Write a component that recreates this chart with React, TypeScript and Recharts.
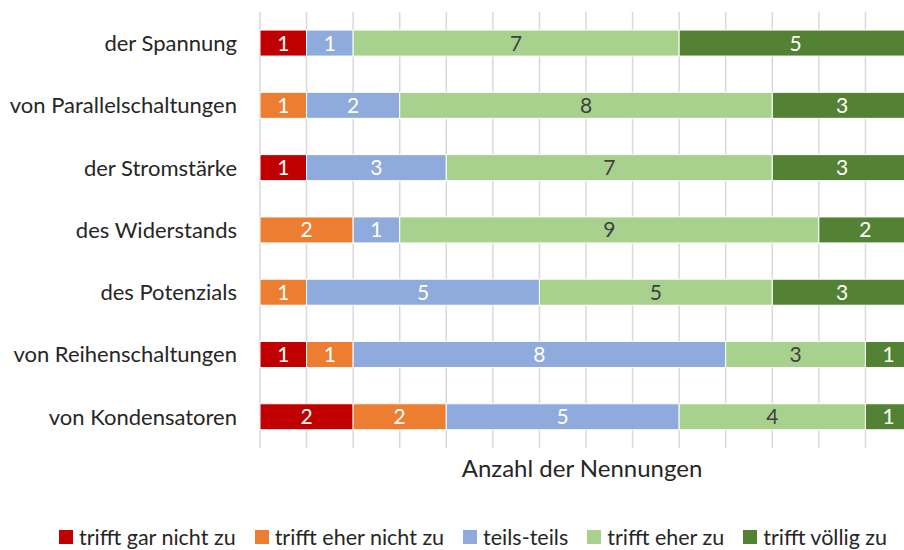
import { BarChart, Bar, XAxis, YAxis, CartesianGrid, LabelList, Legend } from 'recharts';

const categories = [
  'der Spannung',
  'von Parallelschaltungen',
  'der Stromstärke',
  'des Widerstands',
  'des Potenzials',
  'von Reihenschaltungen',
  'von Kondensatoren',
];

const garNicht = [1, 0, 1, 0, 0, 1, 2];
const eherNicht = [0, 1, 0, 2, 1, 1, 2];
const teilsTeils = [1, 2, 3, 1, 5, 8, 5];
const eherZu = [7, 8, 7, 9, 5, 3, 4];
const voelligZu = [5, 3, 3, 2, 3, 1, 1];

const xTicks = [0, 1, 2, 3, 4, 5, 6, 7, 8, 9, 10, 11, 12, 13, 14];

const series = [
  { key: 'garNicht', name: 'trifft gar nicht zu', color: '#C00000', text: '#FFFFFF' },
  { key: 'eherNicht', name: 'trifft eher nicht zu', color: '#ED7D31', text: '#FFFFFF' },
  { key: 'teilsTeils', name: 'teils-teils', color: '#8FAADC', text: '#FFFFFF' },
  { key: 'eherZu', name: 'trifft eher zu', color: '#A9D18E', text: '#404040' },
  { key: 'voelligZu', name: 'trifft völlig zu', color: '#548235', text: '#FFFFFF' },
];

const data = categories.map((name, i) => ({
  name,
  garNicht: garNicht[i],
  eherNicht: eherNicht[i],
  teilsTeils: teilsTeils[i],
  eherZu: eherZu[i],
  voelligZu: voelligZu[i],
}));

const font = 'Lato, "Noto Sans", sans-serif';

// legend drawn by hand so the spacing matches the Excel original
const LegendContent = () => (
  <div style={{ display: 'flex', marginLeft: 59, marginTop: 34, fontFamily: font, fontSize: 21.5, color: '#262626', whiteSpace: 'nowrap' }}>
    {series.map((s) => (
      <div key={s.key} style={{ display: 'flex', alignItems: 'center', marginRight: 19 }}>
        <span style={{ width: 14, height: 14, background: s.color, display: 'inline-block', marginRight: 6 }} />
        <span>{s.name}</span>
      </div>
    ))}
  </div>
);

export default function App() {
  return (
    <div style={{ position: 'absolute', left: 0, top: 0, width: 904, height: 550, overflow: 'hidden', background: '#fff' }}>
      <BarChart
        width={912}
        height={550}
        data={data}
        layout="vertical"
        barCategoryGap="29%"
        margin={{ top: 12, right: 0, left: 0, bottom: 0 }}
      >
        <CartesianGrid horizontal={false} stroke="#D9D9D9" strokeWidth={1.5} />
        <XAxis
          type="number"
          domain={[0, 14]}
          ticks={xTicks}
          tick={() => <g />}
          tickLine={false}
          axisLine={false}
          height={42}
          label={{ value: 'Anzahl der Nennungen', position: 'insideBottom', offset: 0, fill: '#262626', fontSize: 24, fontFamily: font, dy: -13, dx: -4 }}
        />
        <YAxis
          type="category"
          dataKey="name"
          width={260}
          tickLine={false}
          axisLine={false}
          tickSize={0}
          tickMargin={23}
          tick={{ fill: '#262626', fontSize: 22, fontFamily: font }}
        />
        <Legend verticalAlign="bottom" content={<LegendContent />} wrapperStyle={{ bottom: 0, left: 0, height: 60, overflow: 'visible' }} />
        {series.map((s) => (
          <Bar key={s.key} dataKey={s.key} name={s.name} stackId="a" fill={s.color} stroke="#FFFFFF" strokeWidth={1} isAnimationActive={false}>
            <LabelList
              dataKey={s.key}
              position="center"
              fill={s.text}
              fontSize={21}
              fontFamily={font}
              formatter={(v: any) => (v ? v : '')}
            />
          </Bar>
        ))}
      </BarChart>
    </div>
  );
}
